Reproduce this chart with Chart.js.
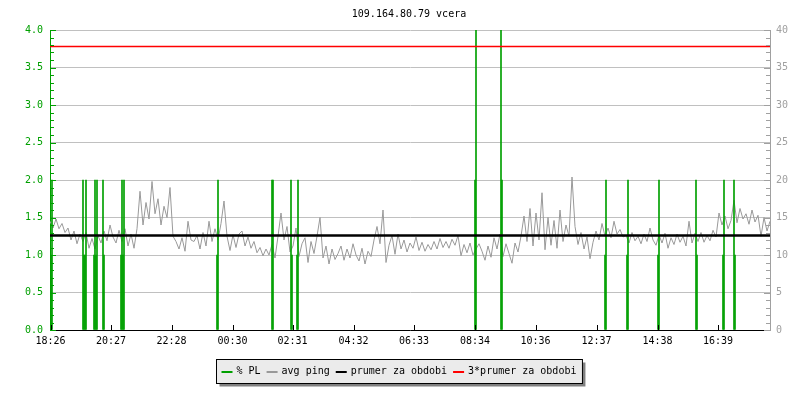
<!DOCTYPE html>
<html>
<head>
<meta charset="utf-8">
<title>109.164.80.79 vcera</title>
<script src="https://cdn.jsdelivr.net/npm/chart.js"></script>
<style>
  body { margin: 0; background: #fff; }
  #wrap { width: 800px; height: 400px; }
</style>
</head>
<body>
<div id="wrap"><canvas id="graf" width="800" height="400"></canvas></div>
<script>
const title = '109.164.80.79 vcera';

// x axis: minutes from start of the period, 1 px = 2 min
const tickLabels = ['18:26', '20:27', '22:28', '00:30', '02:31', '04:32', '06:33', '08:34', '10:36', '12:37', '14:38', '16:39'];
const tickMinutes = [1, 122, 243, 365, 485, 607, 728, 850, 971, 1093, 1215, 1336];
const periodMinutes = 1440;

// avg ping [ms], one sample every 6 minutes
const pingStep = 6;
const ping = [
  14.5, 13.6, 14.8, 13.5, 14.2, 13.0, 13.6, 12.0, 13.2, 11.5, 12.8, 11.8, 13.0, 10.9, 12.2, 10.8,
  12.6, 11.6, 13.2, 11.9, 14.0, 12.4, 11.6, 13.3, 11.8, 13.5, 11.2, 12.8, 10.9, 13.5, 18.5, 14.0,
  17.0, 14.8, 19.8, 15.5, 17.5, 14.0, 16.5, 15.0, 19.0, 12.5, 11.8, 10.8, 12.3, 10.5, 14.5, 12.0,

  11.8, 12.6, 10.8, 13.0, 11.2, 14.5, 11.8, 13.5, 12.0, 14.2, 17.2, 12.5, 10.6, 12.7, 11.0, 12.8,
  13.2, 11.2, 12.4, 10.9, 11.8, 10.3, 11.0, 9.9, 10.8, 10.0, 11.4, 9.6, 12.5, 15.6, 12.0, 13.8,
  10.4, 11.2, 13.6, 9.8, 11.5, 12.3, 9.0, 11.8, 10.2, 12.5, 15.0, 9.6, 11.2, 8.8, 10.8, 9.4,

  10.2, 11.2, 9.3, 10.8, 9.6, 11.5, 10.0, 9.2, 10.9, 8.8, 10.5, 9.8, 12.0, 13.8, 11.5, 16.0,
  9.0, 11.3, 12.6, 10.1, 12.8, 10.8, 12.0, 10.4, 11.6, 10.9, 12.4, 10.6, 11.7, 10.5, 11.4, 10.7,
  11.8, 10.8, 12.2, 11.0, 11.8, 10.9, 12.1, 11.3, 12.6, 9.9, 11.4, 10.3, 11.6, 10.0, 10.8, 11.5,

  10.5, 9.3, 11.2, 9.7, 12.3, 10.8, 12.8, 9.8, 11.5, 10.2, 8.9, 11.6, 10.4, 12.5, 15.2, 11.8,
  16.2, 11.2, 15.6, 12.0, 18.3, 10.7, 15.0, 11.3, 14.6, 10.9, 16.0, 11.8, 14.0, 12.5, 20.4, 13.8,
  11.4, 13.0, 10.8, 12.4, 9.5, 11.7, 13.2, 12.0, 14.2, 12.5, 13.6, 12.3, 14.5, 12.8, 13.4, 12.4,

  12.6, 11.6, 13.0, 11.9, 12.5, 11.5, 12.8, 11.8, 13.6, 12.0, 11.3, 12.7, 11.6, 12.9, 10.9, 12.3,
  11.4, 12.8, 11.7, 12.5, 11.2, 14.5, 11.6, 12.9, 11.8, 13.0, 11.7, 12.6, 11.9, 13.3, 12.4, 15.6,
  14.0, 15.2, 13.5, 14.6, 17.3, 14.3, 16.2, 14.8, 15.5, 14.1, 16.0, 14.4, 15.3, 12.5, 15.0, 13.2,
  14.5
];

// packet loss [%]
const plMinutes = [2, 4, 66, 68, 70, 72, 88, 90, 92, 94, 106, 108, 142, 144, 146, 148, 334, 336,
  444, 446, 482, 484, 494, 496, 850, 852, 902, 904, 1110, 1112, 1154, 1156, 1216, 1218,
  1292, 1294, 1346, 1348, 1368, 1370];
const plValues = [1, 2, 2, 1, 1, 2, 1, 2, 1, 2, 2, 1, 1, 2, 1, 2, 1, 2,
  2, 2, 2, 1, 1, 2, 2, 6, 6, 2, 1, 2, 1, 2, 1, 2,
  2, 1, 1, 2, 2, 1];

const avgPeriod = 12.6;
const avgPeriod3 = 37.8;

const FONT = 'DejaVu Sans Mono';
Chart.defaults.font.family = FONT;
Chart.defaults.font.size = 10;

const axisPlugin = {
  id: 'axisTicks',
  afterDraw(chart) {
    const { ctx, chartArea: a, scales } = chart;
    ctx.save();
    ctx.lineWidth = 1;

    // left axis ticks, inward
    ctx.strokeStyle = '#00a000';
    for (let k = 0; k <= 40; k++) {
      const y = Math.round(scales.y.getPixelForValue(k / 10)) + 0.5;
      const len = k % 5 === 0 ? 6 : 4;
      ctx.beginPath(); ctx.moveTo(a.left, y); ctx.lineTo(a.left + len, y); ctx.stroke();
    }
    // right axis ticks, inward
    ctx.strokeStyle = '#a0a0a0';
    for (let k = 0; k <= 40; k++) {
      const y = Math.round(scales.y2.getPixelForValue(k)) + 0.5;
      const len = k % 5 === 0 ? 6 : 4;
      ctx.beginPath(); ctx.moveTo(a.right, y); ctx.lineTo(a.right - len, y); ctx.stroke();
    }
    // x ticks, upward
    ctx.strokeStyle = '#000';
    tickMinutes.forEach(m => {
      const x = Math.round(scales.x.getPixelForValue(m)) + 0.5;
      ctx.beginPath(); ctx.moveTo(x, a.bottom); ctx.lineTo(x, a.bottom - 5); ctx.stroke();
    });

    // title
    ctx.fillStyle = '#000';
    ctx.font = '10px ' + FONT;
    ctx.textAlign = 'center';
    ctx.textBaseline = 'alphabetic';
    ctx.fillText(title, 409, 17);

    // legend box
    const items = chart.data.datasets.map(d => ({ label: d.label, color: d.legendColor }));
    ctx.textAlign = 'left';
    let w = 5;
    items.forEach((it, i) => {
      w += 11 + 4 + ctx.measureText(it.label).width + (i < items.length - 1 ? 6 : 6);
    });
    const bx = Math.round(399 - w / 2) + 0.5, by = 359.5, bh = 24;
    ctx.fillStyle = '#808080';
    ctx.fillRect(bx + 3, by + 3, w, bh);
    ctx.fillStyle = '#ebebeb';
    ctx.fillRect(bx, by, w, bh);
    ctx.strokeStyle = '#000';
    ctx.strokeRect(bx, by, w, bh);
    let x = bx + 5;
    items.forEach(it => {
      ctx.fillStyle = it.color;
      ctx.fillRect(x, 371, 11, 2);
      x += 15;
      ctx.fillStyle = '#000';
      ctx.fillText(it.label, x, 374);
      x += ctx.measureText(it.label).width + 6;
    });
    ctx.restore();
  }
};

new Chart(document.getElementById('graf'), {
  type: 'bar',
  data: {
    datasets: [
      {
        type: 'bar',
        label: '% PL',
        legendColor: '#00a000',
        yAxisID: 'y',
        data: plMinutes.map((m, i) => ({ x: m, y: plValues[i] })),
        backgroundColor: '#00a000',
        barThickness: 1,
        grouped: false,
        order: 2
      },
      {
        type: 'line',
        label: 'avg ping',
        legendColor: '#999999',
        yAxisID: 'y2',
        data: ping.map((v, i) => ({ x: i * pingStep, y: v })),
        borderColor: '#999999',
        borderWidth: 1,
        pointRadius: 0,
        tension: 0,
        order: 3
      },
      {
        type: 'line',
        label: 'prumer za obdobi',
        legendColor: '#000000',
        yAxisID: 'y2',
        data: [{ x: 0, y: avgPeriod }, { x: periodMinutes, y: avgPeriod }],
        borderColor: '#000000',
        borderWidth: 2.5,
        pointRadius: 0,
        order: 1
      },
      {
        type: 'line',
        label: '3*prumer za obdobi',
        legendColor: '#ff0000',
        yAxisID: 'y2',
        data: [{ x: 0, y: avgPeriod3 }, { x: periodMinutes, y: avgPeriod3 }],
        borderColor: '#ff0000',
        borderWidth: 1.5,
        pointRadius: 0,
        order: 0
      }
    ]
  },
  options: {
    responsive: false,
    animation: false,
    layout: { padding: { top: 30, left: 0, right: 0, bottom: 0 } },
    plugins: { legend: { display: false }, tooltip: { enabled: false } },
    scales: {
      x: {
        type: 'linear',
        min: 0,
        max: periodMinutes,
        offset: false,
        afterFit: s => { s.height = 70; },
        afterBuildTicks: s => { s.ticks = tickMinutes.map(v => ({ value: v })); },
        grid: { drawOnChartArea: false, drawTicks: false },
        border: { color: '#000', width: 1 },
        ticks: {
          color: '#000',
          padding: 5,
          maxRotation: 0,
          autoSkip: false,
          callback: (v, i) => tickLabels[i]
        }
      },
      y: {
        position: 'left',
        min: 0,
        max: 4,
        afterFit: s => { s.width = 50; },
        grid: { color: '#c0c0c0', drawTicks: false },
        border: { color: '#00a000', width: 1 },
        ticks: { stepSize: 0.5, color: '#00a000', padding: 7, callback: v => v.toFixed(1) }
      },
      y2: {
        position: 'right',
        min: 0,
        max: 40,
        afterFit: s => { s.width = 30; },
        grid: { display: false, drawTicks: false },
        border: { color: '#a0a0a0', width: 1 },
        ticks: { stepSize: 5, color: '#a0a0a0', padding: 6 }
      }
    }
  },
  plugins: [axisPlugin]
});
</script>
</body>
</html>
